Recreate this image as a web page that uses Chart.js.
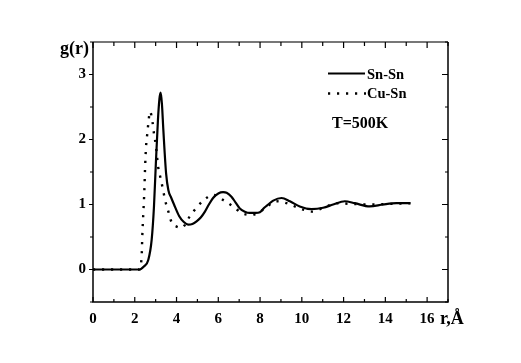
<!DOCTYPE html>
<html>
<head>
<meta charset="utf-8">
<script src="https://cdn.jsdelivr.net/npm/chart.js@4"></script>
<style>
  html, body { margin: 0; padding: 0; background: #fff; }
  #wrap { width: 521px; height: 363px; }
</style>
</head>
<body>
<div id="wrap"><canvas id="c" width="521" height="363"></canvas></div>
<script>
// g(r) data
const rSnSn = [0, 2.2, 2.45, 2.65, 2.81, 2.92, 3.01, 3.11, 3.18, 3.24, 3.3, 3.37, 3.5, 3.61, 3.75, 3.88, 4.13, 4.35, 4.56, 4.76, 4.96, 5.16, 5.36, 5.55, 5.75, 6.0, 6.23, 6.4, 6.63, 6.83, 7.03, 7.27, 7.51, 7.79, 7.99, 8.2, 8.39, 8.63, 9.03, 9.43, 9.9, 10.46, 11.02, 11.5, 12.06, 12.54, 13.25, 13.89, 14.53, 15.2];
const gSnSn = [0, 0, 0.05, 0.15, 0.46, 0.97, 1.63, 2.3, 2.62, 2.72, 2.55, 2.14, 1.48, 1.22, 1.1, 1.0, 0.82, 0.73, 0.69, 0.7, 0.74, 0.8, 0.89, 1.0, 1.1, 1.17, 1.19, 1.18, 1.12, 1.03, 0.94, 0.89, 0.87, 0.87, 0.88, 0.95, 1.0, 1.06, 1.1, 1.05, 0.97, 0.93, 0.95, 1.0, 1.05, 1.02, 0.97, 1.0, 1.02, 1.02];

const rCuSn = [0, 2.2, 2.33, 2.36, 2.41, 2.46, 2.49, 2.54, 2.6, 2.65, 2.73, 2.85, 2.92, 3.01, 3.12, 3.24, 3.37, 3.45, 3.61, 3.77, 4.0, 4.24, 4.64, 4.8, 5.25, 5.75, 6.23, 6.75, 7.11, 7.59, 8.15, 8.79, 9.27, 9.98, 10.49, 11.02, 11.74, 12.3, 13.41, 14.3, 15.2];
const gCuSn = [0, 0, 0.2, 0.51, 0.87, 1.22, 1.53, 1.89, 2.09, 2.25, 2.43, 2.27, 2.09, 1.91, 1.58, 1.4, 1.2, 1.07, 0.89, 0.72, 0.66, 0.64, 0.82, 0.89, 1.05, 1.15, 1.07, 0.96, 0.87, 0.84, 0.92, 1.05, 1.02, 0.93, 0.89, 0.95, 1.02, 1.01, 1.0, 1.01, 1.02];

const xTicks = [0, 2, 4, 6, 8, 10, 12, 14, 16];
const yTicks = [0, 1, 2, 3];

const serif = '"Liberation Serif", "Times New Roman", serif';

// frame, mirrored ticks and the extra texts
const decor = {
  id: 'decor',
  afterDraw(chart) {
    const ctx = chart.ctx;
    const a = chart.chartArea;
    const xs = chart.scales.x, ys = chart.scales.y;
    ctx.save();
    // top edge looks grey in the original
    ctx.beginPath();
    ctx.strokeStyle = '#777';
    ctx.lineWidth = 2;
    ctx.moveTo(a.left, a.top); ctx.lineTo(a.right, a.top);
    ctx.stroke();
    ctx.strokeStyle = '#000';
    ctx.lineWidth = 1.5;
    ctx.beginPath();
    ctx.moveTo(a.left, a.top); ctx.lineTo(a.left, a.bottom); ctx.lineTo(a.right, a.bottom); ctx.lineTo(a.right, a.top);
    ctx.stroke();

    ctx.lineWidth = 1.2;
    ctx.beginPath();
    for (let v = 0; v <= 17; v++) {
      const px = xs.getPixelForValue(v);
      const len = v % 2 === 0 ? 5 : 3;
      ctx.moveTo(px, a.bottom); ctx.lineTo(px, a.bottom - len);
      ctx.moveTo(px, a.top); ctx.lineTo(px, a.top + len + 1);
    }
    for (let v = -0.5; v <= 3.5; v += 0.5) {
      const py = ys.getPixelForValue(v);
      const major = Math.abs(v - Math.round(v)) < 1e-6;
      ctx.moveTo(a.left, py); ctx.lineTo(a.left - (major ? 4 : 3), py);
      ctx.moveTo(a.right, py); ctx.lineTo(a.right - (major ? 6 : 3), py);
    }
    ctx.stroke();

    // axis titles
    ctx.fillStyle = '#000';
    ctx.font = 'bold 18px ' + serif;
    ctx.textBaseline = 'middle';
    ctx.textAlign = 'left';
    ctx.fillText('g(r)', 60, 49);
    ctx.fillText('r,Å', 440, 319);

    // legend
    ctx.lineWidth = 2;
    ctx.beginPath();
    ctx.moveTo(328, 73.5); ctx.lineTo(365, 73.5);
    ctx.stroke();
    ctx.setLineDash([2.2, 6.8]);
    ctx.lineWidth = 2.4;
    ctx.beginPath();
    ctx.moveTo(328, 93.5); ctx.lineTo(366, 93.5);
    ctx.stroke();
    ctx.setLineDash([]);
    ctx.font = 'bold 14.5px ' + serif;
    ctx.fillText('Sn-Sn', 367, 75);
    ctx.fillText('Cu-Sn', 367, 94);
    ctx.font = 'bold 16px ' + serif;
    ctx.fillText('T=500K', 332, 124);
    ctx.restore();
  }
};

new Chart(document.getElementById('c'), {
  type: 'line',
  data: {
    datasets: [
      {
        label: 'Sn-Sn',
        data: rSnSn.map((r, i) => ({ x: r, y: gSnSn[i] })),
        borderColor: '#000',
        borderWidth: 2.2,
        pointRadius: 0,
        cubicInterpolationMode: 'monotone',
        fill: false
      },
      {
        label: 'Cu-Sn',
        data: rCuSn.map((r, i) => ({ x: r, y: gCuSn[i] })),
        borderColor: '#000',
        borderWidth: 2.4,
        borderDash: [2.2, 6.8],
        pointRadius: 0,
        cubicInterpolationMode: 'monotone',
        fill: false
      }
    ]
  },
  options: {
    responsive: false,
    animation: false,
    layout: { padding: { top: 42, right: 73, left: 0, bottom: 0 } },
    plugins: { legend: { display: false }, tooltip: { enabled: false } },
    scales: {
      x: {
        type: 'linear',
        min: 0,
        max: 17,
        grid: { display: false, drawTicks: false },
        border: { display: false },
        afterBuildTicks: s => { s.ticks = xTicks.map(v => ({ value: v })); },
        afterFit: s => { s.height = 61; },
        ticks: { color: '#000', padding: 8, maxRotation: 0, font: { family: serif, size: 15, weight: 'bold' } }
      },
      y: {
        type: 'linear',
        min: -0.5,
        max: 3.5,
        grid: { display: false, drawTicks: false },
        border: { display: false },
        afterBuildTicks: s => { s.ticks = yTicks.map(v => ({ value: v })); },
        afterFit: s => { s.width = 93; },
        ticks: { color: '#000', padding: 7, font: { family: serif, size: 15, weight: 'bold' } }
      }
    }
  },
  plugins: [decor]
});
</script>
</body>
</html>
